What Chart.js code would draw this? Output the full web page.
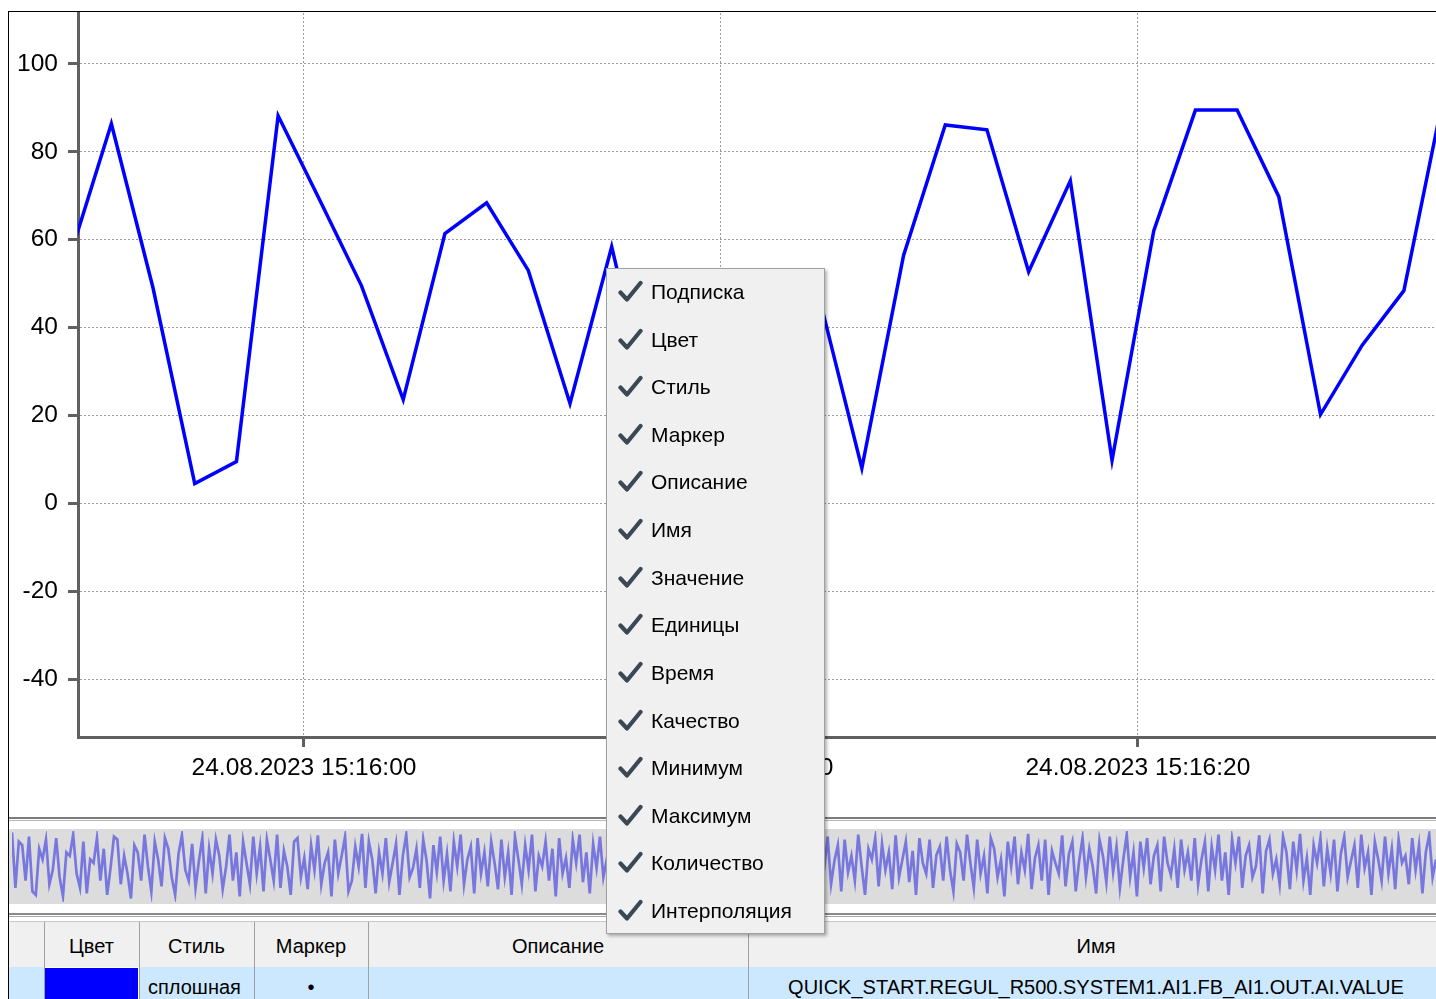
<!DOCTYPE html>
<html><head><meta charset="utf-8">
<script src="https://cdn.jsdelivr.net/npm/chart.js@4.4.0/dist/chart.umd.min.js"></script>
<style>
html,body{margin:0;padding:0;width:1436px;height:999px;overflow:hidden;background:#fff;font-family:"Liberation Sans",Arial,sans-serif;color:#000;}
.abs{position:absolute;}
.menuItem{position:absolute;left:0;width:217px;height:47.6px;}
.menuItem svg{position:absolute;left:11px;top:12px;}
.menuItem span{position:absolute;left:44px;top:0;line-height:47.6px;font-size:21px;white-space:nowrap;}
.th{position:absolute;top:922px;height:45px;line-height:48px;text-align:center;font-size:20px;background:#f0f0f0;white-space:nowrap;overflow:hidden;}
.td{position:absolute;top:967px;height:44px;line-height:41px;text-align:center;font-size:20px;background:#cce8ff;white-space:nowrap;overflow:hidden;}
.vl{position:absolute;top:922px;width:1px;height:77px;background:#a0a0a0;}
</style></head>
<body>
<div class="abs" style="left:8px;top:11px;width:1428px;height:1px;background:#000;z-index:5"></div>
<div class="abs" style="left:8px;top:11px;width:1px;height:988px;background:#000;z-index:5"></div>
<canvas id="main" class="abs" width="1427" height="834" style="left:9px;top:-17px;width:1427px;height:834px;"></canvas>
<div class="abs" style="left:9px;top:817px;width:1427px;height:2px;background:#7c7c7c"></div>
<div class="abs" style="left:9px;top:820px;width:1427px;height:1px;background:#b8b8b8"></div>
<div class="abs" style="left:9px;top:829px;width:1427px;height:75px;background:#dcdcdc"></div>
<canvas id="ov" class="abs" width="1424" height="75" style="left:12px;top:829px;width:1424px;height:75px;"></canvas>
<div class="abs" style="left:9px;top:913px;width:1427px;height:2px;background:#8a8a8a"></div>
<div class="abs" style="left:9px;top:916px;width:1427px;height:1px;background:#a8a8a8"></div>
<div class="abs" style="left:9px;top:921px;width:1427px;height:1px;background:#c8c8c8"></div>
<div id="table"></div>
<div id="menu" class="abs" style="left:606px;top:268px;width:217px;height:664px;background:#f0f0f0;border:1px solid #a0a0a0;box-shadow:2px 2px 3px rgba(0,0,0,0.3);z-index:10"></div>
<script>
// ---- main trend data ----
const timeStamps = ['15:15:54.38','15:15:55.38','15:15:56.38','15:15:57.38','15:15:58.38','15:15:59.38',
  '15:16:00.38','15:16:01.38','15:16:02.38','15:16:03.38','15:16:04.38','15:16:05.38','15:16:06.38',
  '15:16:07.38','15:16:08.38','15:16:09.38','15:16:10.38','15:16:11.38','15:16:12.38','15:16:13.38',
  '15:16:14.38','15:16:15.38','15:16:16.38','15:16:17.38','15:16:18.38','15:16:19.38','15:16:20.38',
  '15:16:21.38','15:16:22.38','15:16:23.38','15:16:24.38','15:16:25.38','15:16:26.38','15:16:27.38'];
const values = [56, 86.4, 49, 4.5, 9.5, 88.2,
  69, 49.5, 23.6, 61.4, 68.4, 53, 22.7,
  58.4, 18, 50, 30, 48, 46, 8,
  56.4, 86.1, 85, 52.7, 73.4, 9.8, 62,
  89.5, 89.5, 69.8, 20.2, 36, 48.4, 95];
const yTicks = [-40, -20, 0, 20, 40, 60, 80, 100];
const yRange = [-53.2, 111.6];
const xTickLabels = ['24.08.2023 15:16:00', '24.08.2023 15:16:10', '24.08.2023 15:16:20'];
const viewRange = ['15:15:54.58', '15:16:27.15'];

// ---- overview strip data ----
const overviewValues = [
  98,20,85,80,30,92,15,10,75,60,88,25,45,90,35,8,70,65,95,40,20,85,12,60,55,90,30,75,10,48,92,88,25,65,40,5,80,70,30,95,50,15,85,60,22,90,75,35,10,68,94,45,30,82,20,58,90,12,75,40,88,65,18,50,95,30,70,8,85,55,25,92,
  40,78,15,88,60,30,95,20,72,50,10,85,90,35,62,18,80,45,94,25,55,70,8,88,40,65,92,15,30,78,50,96,20,85,60,12,70,40,90,28,55,82,10,65,95,35,48,75,20,88,58,5,80,42,92,30,68,15,85,50,95,25,60,78,12,90,40,70,22,85,55,18,
  88,35,70,10,92,60,25,80,45,95,15,65,50,85,30,75,8,90,40,62,20,88,55,95,28,70,12,82,48,92,35,60,18,85,72,5,78,40,95,25,65,90,15,55,80,30,70,45,92,10,60,85,35,75,20,88,50,96,30,65,
  12,85,55,30,90,70,20,95,45,65,10,80,88,35,60,25,92,50,15,75,85,40,68,8,90,30,78,55,20,94,62,38,85,12,70,48,92,25,58,80,15,88,42,65,30,95,50,10,75,60,90,22,82,45,70,18,94,35,60,85,28,72,10,90,55,40,88,20,66,78,30,92,
  45,15,82,70,30,95,55,20,88,40,65,12,90,75,35,60,8,85,50,92,25,70,45,96,18,62,80,30,88,10,72,55,40,94,22,68,85,15,58,90,35,75,50,12,88,65,28,92,42,78,20,60,95,35,70,8,85,48,90,25,65,80,15,92,55,38,75,20,88,45,70,30,
  90,25,60,85,15,78,45,95,30,70,10,88,55,92,20,65,80,35,50,94,12,72,88,40,60,25,92,70,18,85,45,96,30,62,10,80,55,90,22,75,40,88,15,68,92,35,58,80,20,95,48,70,10,85,60,30,92,40,75,18,88,55,65,25,90,45,80,12,70,95,35,60];

// ---- UI texts ----
const menuItems = ['Подписка','Цвет','Стиль','Маркер','Описание','Имя','Значение','Единицы','Время','Качество','Минимум','Максимум','Количество','Интерполяция'];
const tableHeaders = ['', 'Цвет', 'Стиль', 'Маркер', 'Описание', 'Имя'];
const tableRow = ['', '', 'сплошная', '•', '', 'QUICK_START.REGUL_R500.SYSTEM1.AI1.FB_AI1.OUT.AI.VALUE'];
const seriesColor = '#0000ff';

function toSec(s) {
  const t = s.split(' ').pop().split(':');
  return (+t[0]) * 3600 + (+t[1]) * 60 + parseFloat(t[2]) - (15 * 3600 + 16 * 60);
}
const pts = timeStamps.map((t, i) => ({x: toSec(t), y: values[i]}));
const xTickVals = xTickLabels.map(toSec);

const axisFont = {family: '"Liberation Sans", Arial, sans-serif', size: 24.5};
new Chart(document.getElementById('main'), {
  type: 'line',
  data: {datasets: [{data: pts, borderColor: seriesColor, borderWidth: 3.5, pointRadius: 0, tension: 0, fill: false}]},
  options: {
    responsive: false, animation: false, devicePixelRatio: 1,
    layout: {padding: {top: 30, left: 0, right: 0, bottom: 0}},
    plugins: {legend: {display: false}, tooltip: {enabled: false}},
    scales: {
      x: {
        type: 'linear', min: toSec(viewRange[0]), max: toSec(viewRange[1]),
        afterBuildTicks: s => { s.ticks = xTickVals.map(v => ({value: v})); },
        afterFit: s => { s.height = 80; },
        ticks: {color: '#000', font: axisFont, padding: 7, maxRotation: 0, autoSkip: false,
          callback: (v) => { const i = xTickVals.findIndex(t => Math.abs(t - v) < 1e-6); return i >= 0 ? xTickLabels[i] : ''; }},
        grid: {color: '#9c9c9c', lineWidth: 1, drawTicks: true, tickLength: 10, tickColor: '#606060', tickWidth: 3},
        border: {display: true, color: '#606060', width: 3, dash: [2, 2]}
      },
      y: {
        type: 'linear', min: yRange[0], max: yRange[1],
        afterBuildTicks: s => { s.ticks = yTicks.map(v => ({value: v})); },
        afterFit: s => { s.width = 69; },
        ticks: {color: '#000', font: axisFont, padding: 10, autoSkip: false, callback: v => String(v)},
        grid: {color: '#9c9c9c', lineWidth: 1, drawTicks: true, tickLength: 10, tickColor: '#606060', tickWidth: 3},
        border: {display: true, color: '#606060', width: 3, dash: [2, 2]}
      }
    }
  }
});

new Chart(document.getElementById('ov'), {
  type: 'line',
  data: {labels: overviewValues.map((v, i) => i),
    datasets: [{data: overviewValues, borderColor: 'rgba(80,80,225,0.72)', borderWidth: 2.7, pointRadius: 0, tension: 0, fill: false}]},
  options: {
    responsive: false, animation: false, devicePixelRatio: 1,
    layout: {padding: {top: 2, bottom: 2, left: 0, right: 0}},
    plugins: {legend: {display: false}, tooltip: {enabled: false}},
    scales: {x: {display: false}, y: {display: false, min: 0, max: 100}}
  }
});

// context menu
const menu = document.getElementById('menu');
menuItems.forEach((m, i) => {
  const d = document.createElement('div');
  d.className = 'menuItem';
  d.style.top = (-1 + i * 47.62) + 'px';
  d.innerHTML = '<svg width="25" height="24" viewBox="0 0 25 24"><path d="M2.5 12.5 L9 19.5 L22.5 3" fill="none" stroke="#3a4755" stroke-width="4.2" stroke-linecap="round" stroke-linejoin="round"/></svg><span></span>';
  d.querySelector('span').textContent = m;
  menu.appendChild(d);
});

// table
const cols = [9, 44, 139, 254, 368, 748, 1444];
const tbl = document.getElementById('table');
tableHeaders.forEach((h, i) => {
  const w = (i === 5) ? 696 : cols[i + 1] - cols[i];
  const th = document.createElement('div');
  th.className = 'th';
  th.style.left = cols[i] + 'px';
  th.style.width = w + 'px';
  th.textContent = h;
  tbl.appendChild(th);
  const td = document.createElement('div');
  td.className = 'td';
  td.style.left = cols[i] + 'px';
  td.style.width = w + 'px';
  td.textContent = tableRow[i];
  if (i === 1) { td.style.background = seriesColor; td.style.left = '45px'; td.style.width = '93px'; td.style.top = '968px'; }
  if (i === 2) { td.style.textAlign = 'left'; td.style.paddingLeft = '9px'; td.style.width = '106px'; }
  tbl.appendChild(td);
});
cols.slice(1, 6).forEach(x => {
  const l = document.createElement('div');
  l.className = 'vl';
  l.style.left = x + 'px';
  tbl.appendChild(l);
});
</script>
</body></html>
